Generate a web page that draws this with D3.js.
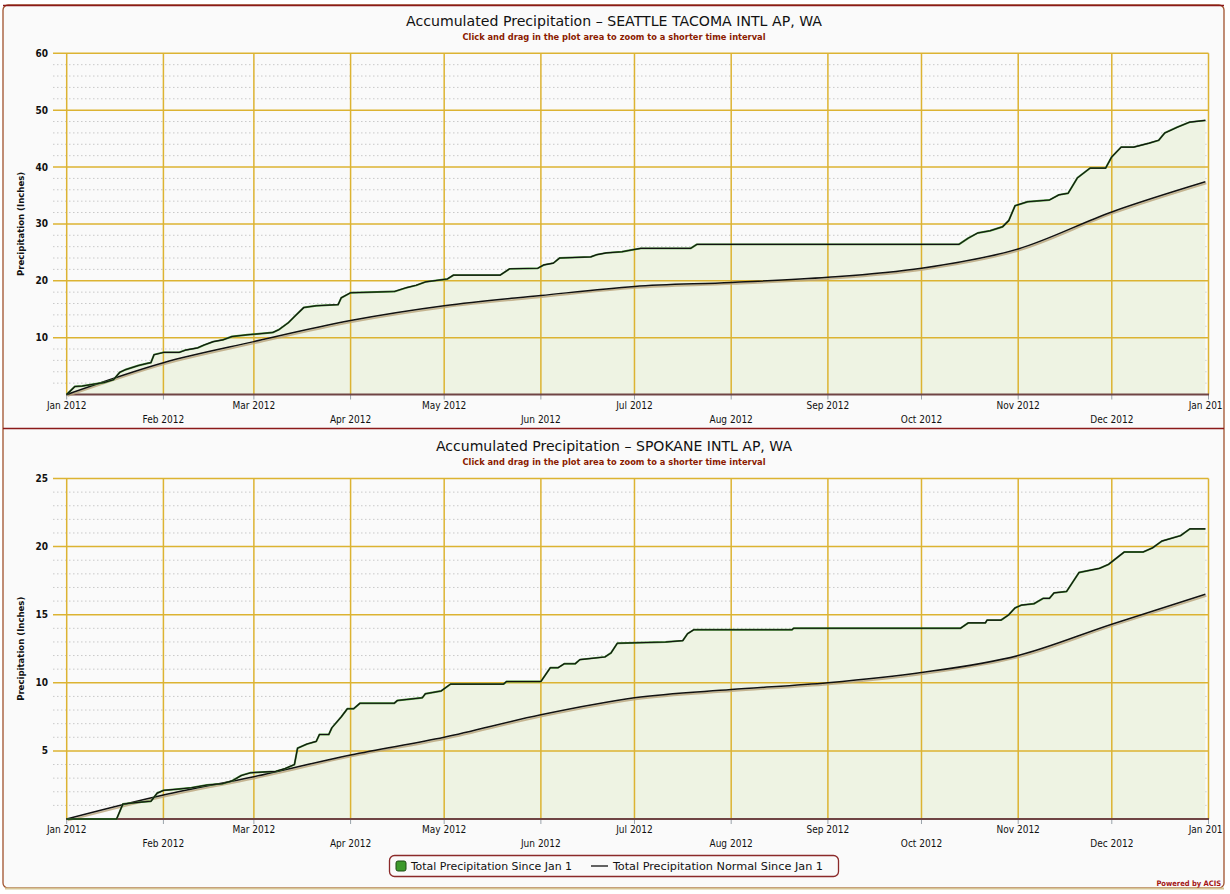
<!DOCTYPE html>
<html>
<head>
<meta charset="utf-8">
<script src="https://cdn.jsdelivr.net/npm/d3@7"></script>
<style>
html,body{margin:0;padding:0;background:#ffffff;}
svg{display:block;}
</style>
</head>
<body>
<svg id="chart" width="1230" height="894"></svg>
<script>
// ---------------- DATA (day offsets from 1 Jan 2012, inches) ----------------
const seattleObsDay = [0,2.6,5,12,15,17,19,23,26,27,28,31,36,38,42,44,47,50,53,58,66,68,71,73,76,80,87,88,91,105,109,112,115,122,124,139,142,151,153,156,158,168,170,173,178,181,184,200,202,286,289,292,296,300,302,304,308,315,318,321,324,328,333,335,338,342,347,350,352,356,360,365];
const seattleObsVal = [0,1.4,1.5,2.1,2.6,3.9,4.4,5.1,5.5,5.6,7.0,7.4,7.4,7.8,8.2,8.7,9.3,9.6,10.2,10.5,10.9,11.4,12.6,13.7,15.3,15.6,15.8,17.0,17.9,18.1,18.8,19.2,19.8,20.3,21.0,21.0,22.1,22.2,22.8,23.1,24.0,24.2,24.6,24.9,25.1,25.4,25.7,25.7,26.4,26.4,27.5,28.4,28.8,29.5,30.6,33.2,33.9,34.2,35.1,35.4,38.1,39.8,39.8,41.8,43.5,43.5,44.2,44.7,46.0,47.0,47.9,48.2];
const seattleNormDay = [0,31,60,91,121,152,182,213,244,274,305,335,365];
const seattleNormVal = [0,5.6,9.3,13.0,15.6,17.4,19.0,19.7,20.6,22.2,25.6,32.1,37.4];

const spokaneObsDay = [0,16,18,22,27,29,31,36,40,45,50,53,56,59,67,70,73,74,77,80,81,84,85,88,90,92,94,105,106,114,115,120,123,140,141,152,155,157.5,159.5,163,164.5,172.5,174.5,176.5,192,197.5,199,201,232.5,233,286.5,289,294.5,295,299.5,302,304,306,310,313,315,316.5,320.5,322.5,324.5,331,334,339,345,348,351,357,360,365];
const spokaneObsVal = [0,0,1.1,1.2,1.3,1.9,2.1,2.2,2.3,2.5,2.6,2.8,3.2,3.4,3.5,3.7,4.0,5.2,5.5,5.7,6.2,6.2,6.7,7.5,8.1,8.1,8.5,8.5,8.7,8.9,9.2,9.4,9.9,9.9,10.1,10.1,11.1,11.1,11.4,11.4,11.7,11.9,12.2,12.9,13.0,13.1,13.6,13.9,13.9,14.0,14.0,14.4,14.4,14.6,14.6,15.0,15.5,15.7,15.8,16.2,16.2,16.6,16.7,17.4,18.1,18.4,18.7,19.6,19.6,19.9,20.4,20.8,21.3,21.3];
const spokaneNormDay = [0,31,60,91,121,152,182,213,244,274,305,335,365];
const spokaneNormVal = [0,1.76,3.1,4.7,6.0,7.65,8.9,9.5,10.0,10.75,12.0,14.3,16.5];

const seattleYTicks = [10,20,30,40,50,60];
const spokaneYTicks = [5,10,15,20,25];
const monthLabels = ["Jan 2012","Feb 2012","Mar 2012","Apr 2012","May 2012","Jun 2012","Jul 2012","Aug 2012","Sep 2012","Oct 2012","Nov 2012","Dec 2012","Jan 2013"];
const legendLabels = ["Total Precipitation Since Jan 1","Total Precipitation Normal Since Jan 1"];
const titles = ["Accumulated Precipitation \u2013 SEATTLE TACOMA INTL AP, WA","Accumulated Precipitation \u2013 SPOKANE INTL AP, WA"];
const subtitle = "Click and drag in the plot area to zoom to a shorter time interval";
const yAxisTitle = "Precipitation (Inches)";

// ---------------- DRAWING ----------------
const svg = d3.select("#chart");
const base = new Date(2012,0,1);
const toDate = d => base.getTime() + d*86400000;
const FONT = "'DejaVu Sans Condensed','DejaVu Sans',sans-serif";
const gold = "#dcb332";

svg.append("defs").append("clipPath").attr("id","panelclip")
  .append("rect").attr("x",3).attr("y",5).attr("width",1220).attr("height",884);

// panel background and borders
svg.append("rect").attr("x",3).attr("y",5).attr("width",1221).attr("height",883)
  .attr("rx",5).attr("fill","#fafafa").attr("stroke","#a0522d").attr("stroke-width",1.3);
svg.append("line").attr("x1",3).attr("x2",1224).attr("y1",5.5).attr("y2",5.5)
  .attr("stroke","#8b1a1a").attr("stroke-width",1.5);
svg.append("line").attr("x1",3).attr("x2",1224).attr("y1",428.5).attr("y2",428.5)
  .attr("stroke","#8b1a1a").attr("stroke-width",1.5);
svg.append("line").attr("x1",5).attr("x2",1224).attr("y1",888.5).attr("y2",888.5)
  .attr("stroke","#d6c595").attr("stroke-width",2);

const x = d3.scaleTime().domain([base, new Date(2013,0,1)]).range([66.7, 1208.5]);
const months = d3.timeMonth.range(base, new Date(2013,0,2));

function panel(cfg){
  const g = svg.append("g").attr("clip-path","url(#panelclip)");
  const y = d3.scaleLinear().domain([0, cfg.ymax]).range([cfg.bottom, cfg.top]);

  // titles
  g.append("text").attr("x",614).attr("y",cfg.titleY).attr("text-anchor","middle")
    .attr("font-family","'DejaVu Sans',sans-serif").attr("font-size",13.5).attr("fill","#111")
    .attr("textLength",cfg.titleW).attr("lengthAdjust","spacingAndGlyphs").text(cfg.title);
  g.append("text").attr("x",614).attr("y",cfg.titleY+14).attr("text-anchor","middle")
    .attr("font-family",FONT).attr("font-weight","bold").attr("font-size",9).attr("fill","#8b1a00")
    .attr("textLength",303).attr("lengthAdjust","spacingAndGlyphs").text(subtitle);

  // minor dotted gridlines
  const minors = d3.range(cfg.minor, cfg.ymax, cfg.minor).filter(v => !cfg.ticks.includes(v));
  g.append("g").selectAll("line").data(minors).join("line")
    .attr("x1",53).attr("x2",1208.5).attr("y1",d=>y(d)).attr("y2",d=>y(d))
    .attr("stroke","#c9c9c9").attr("stroke-width",1).attr("stroke-dasharray","1.5,2.5");

  // area under observed
  const obs = cfg.obsDay.map((d,i)=>({t:toDate(d), v:cfg.obsVal[i]}));
  const nor = cfg.normDay.map((d,i)=>({t:toDate(d), v:cfg.normVal[i]}));
  g.append("path").datum(obs)
    .attr("d", d3.area().x(d=>x(d.t)).y0(y(0)).y1(d=>y(d.v)))
    .attr("fill","#eef3e3");

  // major gridlines
  g.append("g").selectAll("line").data(cfg.ticks).join("line")
    .attr("x1",53).attr("x2",1208.5).attr("y1",d=>y(d)).attr("y2",d=>y(d))
    .attr("stroke",gold).attr("stroke-width",1.5);
  g.append("g").selectAll("line").data(months).join("line")
    .attr("x1",d=>x(d)).attr("x2",d=>x(d)).attr("y1",cfg.top).attr("y2",cfg.bottom)
    .attr("stroke",gold).attr("stroke-width",1.5);

  // y ticks labels
  g.append("g").selectAll("text").data(cfg.ticks).join("text")
    .attr("x",48).attr("y",d=>y(d)+3.5).attr("text-anchor","end")
    .attr("font-family",FONT).attr("font-weight","bold").attr("font-size",10).attr("fill","#111")
    .text(d=>d);
  g.append("text").attr("transform",`translate(24,${(cfg.top+cfg.bottom)/2}) rotate(-90)`)
    .attr("text-anchor","middle").attr("font-family",FONT).attr("font-weight","bold")
    .attr("font-size",9.5).attr("fill","#111").text(yAxisTitle);

  // x axis line + ticks
  g.append("g").selectAll("line").data(months).join("line")
    .attr("x1",d=>x(d)).attr("x2",d=>x(d)).attr("y1",cfg.bottom).attr("y2",cfg.bottom+5)
    .attr("stroke","#9aa3aa").attr("stroke-width",1);
  g.append("line").attr("x1",66).attr("x2",1209).attr("y1",cfg.bottom).attr("y2",cfg.bottom)
    .attr("stroke","#6f4444").attr("stroke-width",2.2);
  g.append("g").selectAll("text").data(months).join("text")
    .attr("x",d=>x(d)).attr("y",(d,i)=> cfg.bottom + (i%2===0 ? 14 : 28))
    .attr("text-anchor","middle").attr("font-family",FONT).attr("font-size",10).attr("fill","#111")
    .text((d,i)=>monthLabels[i]);

  // normal line with shadow
  const nline = d3.line().x(d=>x(d.t)).y(d=>y(d.v)).curve(d3.curveMonotoneX);
  g.append("path").datum(nor).attr("d",nline).attr("transform","translate(1,1.5)")
    .attr("fill","none").attr("stroke","#b9a47a").attr("stroke-width",1.8).attr("opacity",0.8);
  g.append("path").datum(nor).attr("d",nline)
    .attr("fill","none").attr("stroke","#111").attr("stroke-width",1.5);

  // observed line (green edge, black core)
  const oline = d3.line().x(d=>x(d.t)).y(d=>y(d.v));
  g.append("path").datum(obs).attr("d",oline)
    .attr("fill","none").attr("stroke","#3f8a2f").attr("stroke-width",1.9).attr("stroke-linejoin","round");
  g.append("path").datum(obs).attr("d",oline)
    .attr("fill","none").attr("stroke","#111").attr("stroke-width",1.1).attr("stroke-linejoin","round");
}

panel({title:titles[0], titleY:26, titleW:416, top:53.3, bottom:394.5, ymax:60, ticks:seattleYTicks, minor:2,
  obsDay:seattleObsDay, obsVal:seattleObsVal, normDay:seattleNormDay, normVal:seattleNormVal});
panel({title:titles[1], titleY:451, titleW:356, top:478.5, bottom:819, ymax:25, ticks:spokaneYTicks, minor:1,
  obsDay:spokaneObsDay, obsVal:spokaneObsVal, normDay:spokaneNormDay, normVal:spokaneNormVal});

// legend
const lg = svg.append("g");
lg.append("rect").attr("x",389.5).attr("y",855.5).attr("width",449).attr("height",21).attr("rx",5)
  .attr("fill","#fafafa").attr("stroke","#8b2a2a").attr("stroke-width",1.3);
lg.append("rect").attr("x",396).attr("y",861).attr("width",10).attr("height",10).attr("rx",2)
  .attr("fill","#3d9a2c").attr("stroke","#1f4d15").attr("stroke-width",1);
lg.append("text").attr("x",411).attr("y",869.5).attr("font-family",FONT).attr("font-size",10)
  .attr("fill","#111").attr("textLength",161).attr("lengthAdjust","spacingAndGlyphs").text(legendLabels[0]);
lg.append("line").attr("x1",591).attr("x2",608).attr("y1",866).attr("y2",866)
  .attr("stroke","#111").attr("stroke-width",1.3);
lg.append("text").attr("x",613).attr("y",869.5).attr("font-family",FONT).attr("font-size",10)
  .attr("fill","#111").attr("textLength",210).attr("lengthAdjust","spacingAndGlyphs").text(legendLabels[1]);

svg.append("text").attr("x",1221).attr("y",886).attr("text-anchor","end")
  .attr("font-family",FONT).attr("font-weight","bold").attr("font-size",7.5).attr("fill","#a31515")
  .text("Powered by ACIS");
</script>
</body>
</html>
